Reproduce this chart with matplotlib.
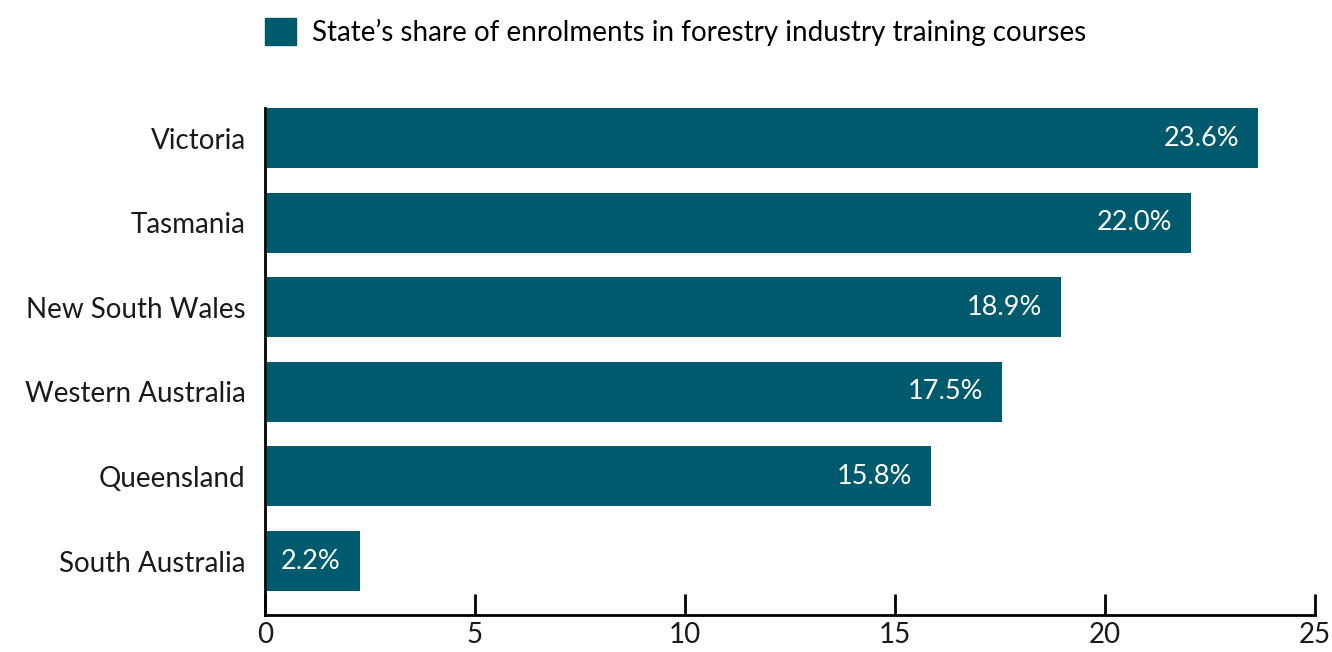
import numpy as np
import matplotlib.pyplot as plt
from matplotlib.patches import Patch

states = ['South Australia', 'Queensland', 'Western Australia',
          'New South Wales', 'Tasmania', 'Victoria']
share = [2.2, 15.8, 17.5, 18.9, 22.0, 23.6]
xticks = [0, 5, 10, 15, 20, 25]

teal = '#005a6e'
plt.rcParams['font.family'] = ['Lato', 'DejaVu Sans']

fig = plt.figure(figsize=(13.32, 6.52), dpi=100)
ax = fig.add_axes([265/1332, 1-615/652, 1050/1332, (615-108)/652])

y = np.arange(len(states))
ax.barh(y, share, height=0.71, color=teal, left=0.05)

# value labels inside the bars
for yi, v in zip(y, share):
    ax.text(v - 0.4, yi, '{:.1f}%'.format(v), color='white', fontsize=19.5,
            ha='right', va='center')

ax.set_xlim(0, 25)
ax.set_ylim(-0.638, 5.355)
ax.set_xticks(xticks)
ax.set_xticklabels([str(t) for t in xticks], fontsize=20, color='#1a1a1a')
ax.set_yticks(y)
ax.set_yticklabels(states, fontsize=20, color='#1a1a1a')
ax.tick_params(axis='x', direction='in', length=15, width=2, pad=5)
ax.tick_params(axis='y', length=0, pad=14)
for s in ['top', 'right']:
    ax.spines[s].set_visible(False)
ax.spines['left'].set_linewidth(2)
ax.spines['bottom'].set_linewidth(2)

handle = Patch(color=teal)
fig.legend([handle], ["State\u2019s share of enrolments in forestry industry training courses"],
           loc='upper left', bbox_to_anchor=(240/1332, 1.01), frameon=False,
           fontsize=20, handlelength=1.1, handleheight=1.1, handletextpad=0.6)

fig.savefig('out.png', dpi=100)
